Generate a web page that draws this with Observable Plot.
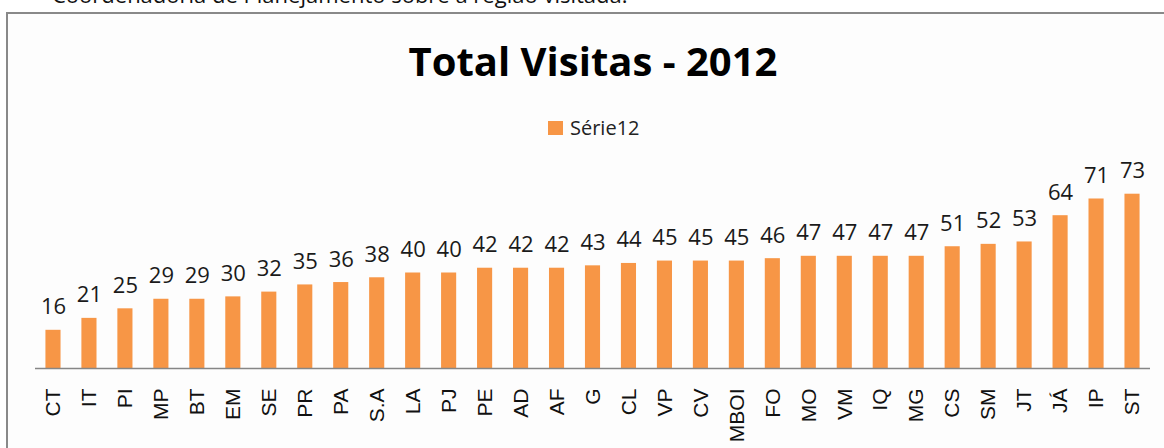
<!DOCTYPE html>
<html>
<head>
<meta charset="utf-8">
<script src="https://cdn.jsdelivr.net/npm/d3@7"></script>
<script src="https://cdn.jsdelivr.net/npm/@observablehq/plot@0.6"></script>
<style>
  html, body { margin: 0; padding: 0; background: #fff; width: 1164px; height: 448px; overflow: hidden; position: relative; }
  #pretext { position: absolute; left: 52px; top: -17px; font: 22px/22px "Open Sans", sans-serif; color: #111; white-space: nowrap; }
  #frame { position: absolute; left: 6px; top: 12px; width: 1200px; height: 500px; border: 2px solid #898989; background: #fdfdfd; }
  #title { position: absolute; left: 11px; width: 1164px; top: 37px; text-align: center; font: bold 40px/48px "Open Sans", sans-serif; color: #000; white-space: nowrap; }
  #legend { position: absolute; left: 548px; top: 114px; font: 20px/28px "Open Sans", sans-serif; color: #222; white-space: nowrap; display: flex; align-items: center; }
  #legend .sw { display: inline-block; width: 15px; height: 14px; background: #f79646; margin-right: 7px; }
  #chart { position: absolute; left: 0; top: 150px; }
</style>
</head>
<body>
<div id="pretext">Coordenadoria de Planejamento sobre a região visitada.</div>
<div id="frame"></div>
<div id="title">Total Visitas - 2012</div>
<div id="legend"><span class="sw"></span><span id="legendLabel"></span></div>
<div id="chart"></div>
<script>
const categories = ["CT","IT","PI","MP","BT","EM","SE","PR","PA","S.A","LA","PJ","PE","AD","AF","G","CL","VP","CV","MBOI","FO","MO","VM","IQ","MG","CS","SM","JT","JÁ","IP","ST"];
const values = [16,21,25,29,29,30,32,35,36,38,40,40,42,42,42,43,44,45,45,45,46,47,47,47,47,51,52,53,64,71,73];
const seriesName = "Série12";

document.getElementById("legendLabel").textContent = seriesName;

const data = categories.map((c, i) => ({cat: c, value: values[i]}));

const chart = Plot.plot({
  width: 1164,
  height: 298,
  marginTop: 27,
  marginBottom: 80,
  marginLeft: 35,
  marginRight: 14,
  style: {background: "transparent", overflow: "visible"},
  x: {domain: categories, paddingInner: 0.58, paddingOuter: 0.29, round: false, label: null},
  y: {domain: [0, 80], axis: null},
  marks: [
    Plot.barY(data, {x: "cat", y: "value", fill: "#f79646"}),
    Plot.ruleY([0], {stroke: "#868686", strokeWidth: 1.5}),
    Plot.text(data, {x: "cat", y: "value", text: d => String(d.value), lineAnchor: "bottom", dy: -16, fontSize: 22, fontFamily: "Open Sans", fill: "#1a1a1a"}),
    Plot.axisX({tickSize: 0, tickPadding: 20, tickRotate: -90, fontSize: 21, fontFamily: "Liberation Sans", fill: "#111", label: null})
  ]
});
document.getElementById("chart").appendChild(chart);
</script>
</body>
</html>
